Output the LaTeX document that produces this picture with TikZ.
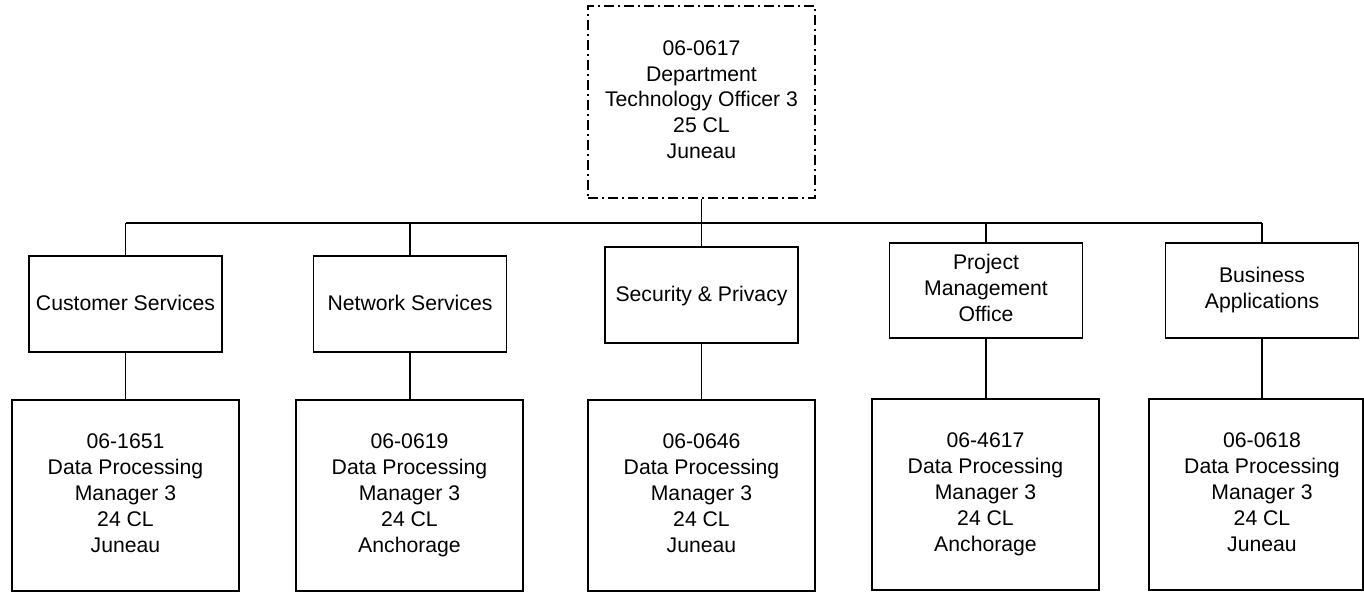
\documentclass[tikz,border=0pt]{standalone}
\usepackage{fontspec}
\setmainfont{Liberation Sans}
\newcommand\boxstrut{\rule[-5pt]{0pt}{22pt}}
\begin{document}
\begin{tikzpicture}[x=1pt,y=-1pt,
  every node/.style={font=\fontsize{21.2}{25.9}\selectfont, align=center, inner sep=0pt,
    execute at begin node=\boxstrut, execute at end node=\boxstrut},
  box/.style={draw, line width=1.4pt, rectangle},
  unitbox/.style={box, minimum width=193pt, minimum height=96pt},
  posbox/.style={box, minimum width=227pt, minimum height=191pt},
  topbox/.style={draw, line width=1.4pt, dash pattern=on 10pt off 4pt on 2pt off 4pt, minimum width=227pt, minimum height=192pt},
  link/.style={line width=1.4pt}]
\useasboundingbox (0,0) rectangle (1364,592);
\node[topbox] (top) at (701.5,102) {06-0617\\Department\\Technology Officer 3\\25 CL\\Juneau};
\coordinate (busL) at (125.5,223);
\coordinate (busR) at (1262,223);
\coordinate (busM) at (701.5,223);

\node[unitbox] (cs) at (125.5,304) {Customer Services};
\node[unitbox] (ns) at (410,304) {Network Services};
\node[unitbox] (sp) at (701.5,295) {Security \& Privacy};
\node[unitbox, minimum height=95pt] (pmo) at (986,290.5) {Project\\Management\\Office};
\node[unitbox, minimum height=95pt] (ba) at (1262,290.5) {Business\\Applications};

\node[posbox] (p1) at (125.5,495.5) {06-1651\\Data Processing\\Manager 3\\24 CL\\Juneau};
\node[posbox] (p2) at (409.5,495.5) {06-0619\\Data Processing\\Manager 3\\24 CL\\Anchorage};
\node[posbox] (p3) at (701.5,495.5) {06-0646\\Data Processing\\Manager 3\\24 CL\\Juneau};
\node[posbox] (p4) at (985.5,494.5) {06-4617\\Data Processing\\Manager 3\\24 CL\\Anchorage};
\node[posbox, minimum width=214pt] (p5) at (1256,494.5) {\hspace*{12pt}06-0618\\\hspace*{12pt}Data Processing\\\hspace*{12pt}Manager 3\\\hspace*{12pt}24 CL\\\hspace*{12pt}Juneau};

\draw[link] (top.south) -- (busM);
\draw[link] (busL) -- (busR);
\draw[link] (busL) -- (cs.north);
\draw[link] (ns.north |- busM) -- (ns.north);
\draw[link] (busM) -- (sp.north);
\draw[link] (pmo.north |- busM) -- (pmo.north);
\draw[link] (busR) -- (ba.north);
\draw[link] (cs.south) -- (p1.north -| cs.south);
\draw[link] (ns.south) -- (p2.north -| ns.south);
\draw[link] (sp.south) -- (p3.north -| sp.south);
\draw[link] (pmo.south) -- (p4.north -| pmo.south);
\draw[link] (ba.south) -- (p5.north -| ba.south);
\end{tikzpicture}
\end{document}
